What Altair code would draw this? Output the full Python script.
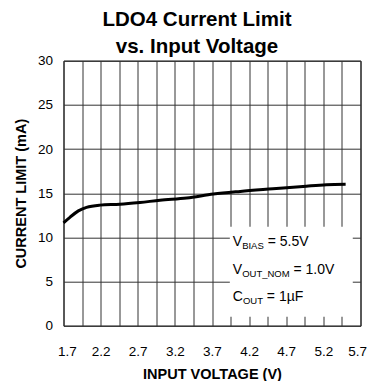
import altair as alt
import pandas as pd

# ---- data ----
voltage = [1.70, 1.79, 1.90, 2.01, 2.19, 2.46, 2.73, 3.00, 3.36, 3.72, 4.08, 4.52, 4.97, 5.24, 5.50]
current = [11.65, 12.3, 13.0, 13.4, 13.65, 13.75, 13.95, 14.2, 14.45, 14.9, 15.2, 15.5, 15.8, 15.95, 16.0]

x_grid = [1.7, 1.95, 2.2, 2.45, 2.7, 2.95, 3.2, 3.45, 3.7, 3.95, 4.2, 4.45, 4.7, 4.95, 5.2, 5.45, 5.7]
x_labels = ["1.7", "2.2", "2.7", "3.2", "3.7", "4.2", "4.7", "5.2", "5.7"]
y_ticks = [0, 5, 10, 15, 20, 25, 30]

title_lines = ["LDO4 Current Limit", "vs. Input Voltage"]
x_title = "INPUT VOLTAGE (V)"
y_title = "CURRENT LIMIT (mA)"

note_main = ["V", "V", "C"]
note_sub = ["BIAS", "OUT_NOM", "OUT"]
note_rest = ["= 5.5V", "= 1.0V", "= 1µF"]
note_y = [9.5, 6.33, 3.3]
note_x = 3.98
box_x = [3.94, 5.596]
box_y = [1.02, 11.2]

# ---- styling / layout ----
FONT = "Liberation Sans"
MAIN_SIZE = 14
SUB_SIZE = 9.5
# glyph advance widths (Arial metrics, em units) used to place the pieces of each note line
ADV = {"V": 0.667, "C": 0.722}
SUB_EM = {"BIAS": 2.279, "OUT_NOM": 5.0, "OUT": 2.111}
SPACE_EM = 0.278

curve = pd.DataFrame({"v": voltage, "i": current})
box_df = pd.DataFrame({"v": [box_x[0]], "v2": [box_x[1]], "i": [box_y[0]], "i2": [box_y[1]]})

label_list = "[" + ",".join("'" + s + "'" for s in x_labels) + "]"
x_axis = alt.Axis(
    values=x_grid,
    labelExpr=f"indexof({label_list}, format(datum.value, '.1f')) >= 0 ? format(datum.value, '.1f') : ''",
    title=x_title,
    grid=True,
    ticks=False,
    tickSize=0,
    domain=False,
    labelPadding=19,
    labelFontSize=13.5,
    labelFont=FONT,
    labelColor="black",
    labelFlush=True,
    labelFlushOffset=6,
    titleFont=FONT,
    titleFontSize=14.5,
    titleFontWeight="bold",
    titleColor="black",
    titlePadding=9,
)
y_axis = alt.Axis(
    values=y_ticks,
    title=y_title,
    grid=True,
    ticks=False,
    tickSize=0,
    domain=False,
    labelPadding=11,
    labelFontSize=13.5,
    labelFont=FONT,
    labelColor="black",
    labelFlush=False,
    titleFont=FONT,
    titleFontSize=14.5,
    titleFontWeight="bold",
    titleColor="black",
    titlePadding=9,
)
xs = alt.Scale(domain=[1.7, 5.7], nice=False, zero=False)
ys = alt.Scale(domain=[0, 30], nice=False)

box = alt.Chart(box_df).mark_rect(fill="white").encode(
    x=alt.X("v:Q", scale=xs, axis=x_axis),
    x2="v2:Q",
    y=alt.Y("i:Q", scale=ys, axis=y_axis),
    y2="i2:Q",
)

line = alt.Chart(curve).mark_line(color="black", strokeWidth=3, interpolate="monotone").encode(
    x=alt.X("v:Q", scale=xs, axis=x_axis),
    y=alt.Y("i:Q", scale=ys, axis=y_axis),
)


def piece(text, yval, size, dx, dy):
    df = pd.DataFrame({"v": [note_x], "i": [yval], "t": [text]})
    return alt.Chart(df).mark_text(
        align="left", baseline="middle", font=FONT, fontSize=size, color="black", dx=dx, dy=dy
    ).encode(
        x=alt.X("v:Q", scale=xs, axis=x_axis),
        y=alt.Y("i:Q", scale=ys, axis=y_axis),
        text="t:N",
    )


note_layers = []
for m, s, r, yv in zip(note_main, note_sub, note_rest, note_y):
    adv = ADV[m] * MAIN_SIZE
    note_layers.append(piece(m, yv, MAIN_SIZE, 0, 0))
    note_layers.append(piece(s, yv, SUB_SIZE, adv, 4))
    note_layers.append(piece(r, yv, MAIN_SIZE, adv + SUB_EM[s] * SUB_SIZE + SPACE_EM * MAIN_SIZE, 0))

chart = alt.layer(box, line, *note_layers).properties(
    width=297,
    height=265,
    title=alt.Title(
        text=title_lines,
        font=FONT,
        fontSize=20.5,
        fontWeight="bold",
        color="black",
        anchor="middle",
        dx=-15,
        dy=4,
        lineHeight=27,
        offset=0,
    ),
    autosize=alt.AutoSizeParams(type="none"),
    padding={"left": 55.5, "top": 52.7, "right": 6.5, "bottom": 55.3},
).configure_view(
    stroke="black", strokeWidth=1
).configure_axis(
    gridColor="#333333", gridOpacity=1, gridWidth=1
)

chart.save("out.html", embed_options={"renderer": "svg", "actions": False})
